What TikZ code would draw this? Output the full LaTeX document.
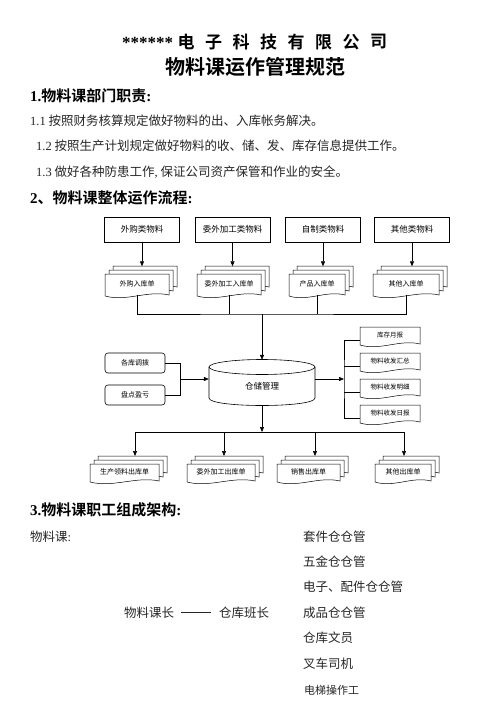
\documentclass[tikz,border=0pt]{standalone}
\usepackage{fontspec}
\setmainfont{Noto Sans CJK SC}[BoldFont={Noto Sans CJK SC Bold}]
\newfontfamily\serifl{Liberation Serif}
\usetikzlibrary{arrows.meta}
\newcommand\fs[1]{\fontsize{#1}{#1}\selectfont}
\newcommand\docshape[4]{%
  \filldraw[docline] ({#1},{#2}) -- ({#3},{#2}) -- ({#3},{(#4)-1})
    .. controls ({(#3)-((#3)-(#1))/3},{(#4)-6}) and ({(#1)+((#3)-(#1))/3},{(#4)+6}) .. ({#1},{#4}) -- cycle;}
\newcommand\mdoc[6]{%
  \docshape{(#2)+8}{#3}{#4}{(#5)-8}
  \docshape{(#2)+4}{(#3)+4}{(#4)-4}{(#5)-4}
  \docshape{#2}{(#3)+8}{(#4)-8}{#5}
  \node[doctext] (#1) at ({((#2)+(#4)-8)/2},{((#3)+8+(#5))/2-1}) {#6};
  \coordinate (#1bot) at ({((#2)+(#4)-8)/2},{(#5)-1});}
\newcommand\sdoc[6]{%
  \docshape{#2}{#3}{#4}{#5}
  \node[doctext, font=\fs{6.5}] (#1) at ({((#2)+(#4))/2},{((#3)+(#5))/2-1}) {#6};
  \coordinate (#1left) at ({#2},{(#3)+13});}
\begin{document}
\begin{tikzpicture}[x=1pt,y=-1pt,
  docline/.style={fill=white, draw=black, line width=0.5pt},
  doctext/.style={font=\fs{7}, inner sep=0},
  box/.style={draw, line width=0.6pt, minimum width=75pt, minimum height=25pt, inner sep=0, font=\fs{8.5}},
  rbox/.style={draw, line width=0.6pt, rounded corners=3pt, minimum width=60pt, minimum height=20pt, inner sep=0, font=\fs{7}},
  conn/.style={line width=0.6pt},
  arr/.style={conn, -{Triangle[length=5pt,width=4pt]}},
  body/.style={anchor=west, inner sep=0, font=\fs{12.5}, text=black!85},
  head/.style={anchor=west, inner sep=0, font=\fs{15}\bfseries},
  ttl/.style={inner sep=0, font=\fs{17}\bfseries}]
\useasboundingbox[fill=white] (0,0) rectangle (496,702);
% title
\node[ttl, anchor=west, font=\fs{17}\serifl\bfseries] (ast) at (122,43) {******};
\foreach \c [count=\i from 0] in {电,子,科,技,有,限,公,司}
  \node[ttl] (tc\i) at ({186+27.5*\i},42) {\c};
\node[inner sep=0, font=\fs{20}\bfseries] (sub) at (255,67) {物料课运作管理规范};
% section 1
\node[head] (h1) at (30,96) {{\serifl\bfseries 1.}物料课部门职责{\serifl\bfseries :}};
\node[body] (l11) at (30,121) {{\serifl 1.1} 按照财务核算规定做好物料的出、入库帐务解决。};
\node[body] (l12) at (36,146) {{\serifl 1.2} 按照生产计划规定做好物料的收、储、发、库存信息提供工作。};
\node[body] (l13) at (36,172) {{\serifl 1.3} 做好各种防患工作{\serifl ,} 保证公司资产保管和作业的安全。};
\node[head] (h2) at (30,198) {{\serifl\bfseries 2}、物料课整体运作流程{\serifl\bfseries :}};
% top boxes
\node[box] (t1) at (142,229.5) {外购类物料};
\node[box] (t2) at (232.5,229.5) {委外加工类物料};
\node[box] (t3) at (323,229.5) {自制类物料};
\node[box] (t4) at (412,229.5) {其他类物料};
% top doc stacks
\mdoc{s1}{105}{266}{177}{296}{外购入库单}
\mdoc{s2}{197}{266}{269}{296}{委外加工入库单}
\mdoc{s3}{289}{266}{353}{296}{产品入库单}
\mdoc{s4}{373}{266}{447}{296}{其他入库单}
\foreach \k in {1,2,3,4} \draw[arr] (t\k.south) -- ++(0,24);
% bus top
\coordinate (busT) at (262,314);
\draw[conn] (s1bot) |- (busT) -| (s4bot);
\draw[conn] (s2bot) -- (s2bot |- busT);
\draw[conn] (s3bot) -- (s3bot |- busT);
% cylinder
\node[minimum width=106pt, minimum height=46pt, inner sep=0] (cyl) at (262,383) {};
\draw[conn, fill=white] (209,367) -- (209,398) .. controls (209,408) and (315,408) .. (315,398) -- (315,367);
\draw[conn] (262,367) ellipse [x radius=53, y radius=7.5];
\node[inner sep=0, font=\fs{8.5}] (cyltext) at (262,386) {仓储管理};
\draw[arr] (busT) -- (busT |- cyl.north);
% left boxes
\node[rbox] (la) at (135,363) {各库调拨};
\node[rbox] (lb) at (135,395) {盘点盈亏};
\coordinate (lj) at (180,379);
\draw[conn] (la.east) -| (lj);
\draw[conn] (lb.east) -| (lj);
\draw[arr] (lj) -- (lj -| cyl.west);
% right docs
\sdoc{r1}{360}{327}{420}{345}{库存月报}
\sdoc{r2}{360}{353}{420}{371}{物料收发汇总}
\sdoc{r3}{360}{379}{420}{397}{物料收发明细}
\sdoc{r4}{360}{405}{420}{423}{物料收发日报}
\coordinate (rj) at (344,379);
\draw[arr] (cyl.east |- rj) -- (rj);
\draw[conn] (r1left) -| (rj) |- (r4left);
\draw[conn] (r2left) -- (r2left -| rj);
\draw[conn] (r3left) -- (r3left -| rj);
% bottom
\coordinate (busB) at (262,432);
\draw[arr] (cyl.south) -- (busB);
\mdoc{b1}{90}{456}{167}{482}{生产领料出库单}
\mdoc{b2}{187}{456}{263}{482}{委外加工出库单}
\mdoc{b3}{277}{456}{348}{482}{销售出库单}
\mdoc{b4}{375}{456}{439}{482}{其他出库单}
\coordinate (a1) at (135,456);
\coordinate (a2) at (224,456);
\coordinate (a3) at (315,456);
\coordinate (a4) at (404,456);
\draw[conn] (a1 |- busB) -- (a4 |- busB);
\foreach \k in {1,2,3,4} \draw[arr] (a\k |- busB) -- (a\k);
% section 3
\node[head] (h3) at (30,510) {{\serifl\bfseries 3.}物料课职工组成架构{\serifl\bfseries :}};
\node[body] (wlk) at (30,537) {物料课{\serifl :}};
\node[body] (p1) at (303,537) {套件仓仓管};
\node[body] (p2) at (303,562) {五金仓仓管};
\node[body] (p3) at (303,587) {电子、配件仓仓管};
\node[body] (p4) at (303,612.5) {成品仓仓管};
\node[body] (p5) at (303,638) {仓库文员};
\node[body] (p6) at (303,663.5) {叉车司机};
\node[body, font=\fs{11}] (p7) at (304,690) {电梯操作工};
\node[body] (kz) at (124,612.5) {物料课长};
\node[body] (bz) at (219,612.5) {仓库班长};
\draw[line width=0.6pt, black!85] ([xshift=7pt]kz.east) -- ([xshift=-8pt]bz.west);
\end{tikzpicture}
\end{document}
